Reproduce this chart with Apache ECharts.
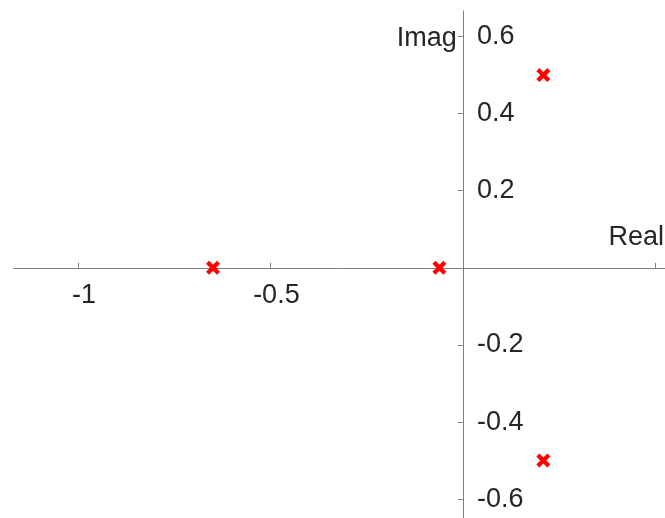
<!DOCTYPE html>
<html>
<head>
<meta charset="utf-8">
<script src="https://cdn.jsdelivr.net/npm/echarts@6/dist/echarts.min.js"></script>
<style>
  html, body { margin: 0; padding: 0; background: #fff; }
  #chart { width: 665px; height: 518px; }
</style>
</head>
<body>
<div id="chart"></div>
<script>
// Pole locations in the complex plane
const poleReal = [0.209, 0.209, -0.649, -0.061];
const poleImag = [0.499, -0.499, 0, 0];

// Axis ticks and labels
const xTicks = [-1, -0.5, 0, 0.5];
const xTickLabels = [-1, -0.5];
const yTicks = [-0.6, -0.4, -0.2, 0, 0.2, 0.4, 0.6];
const yTickLabels = [-0.6, -0.4, -0.2, 0.2, 0.4, 0.6];

const xRange = [-1.166, 0.525];
const yRange = [-0.648, 0.665];

const points = poleReal.map((re, i) => [re, poleImag[i]]);

const axisColor = '#808080';
const textColor = '#262626';
const font = 'Liberation Sans, Arial, Helvetica, sans-serif';
const fontSize = 27;

// Plot area
const gridBox = { left: 14, right: 0, top: 11, bottom: 0 };
const W = 665, H = 518;
const gridW = W - gridBox.left - gridBox.right;
const gridH = H - gridBox.top - gridBox.bottom;

// Shift the axes so they cross at the origin
const xAxisOffset = -(0 - yRange[0]) / (yRange[1] - yRange[0]) * gridH;
const yAxisOffset = -(0 - xRange[0]) / (xRange[1] - xRange[0]) * gridW;

// Bold "x" marker
const crossPath = 'path://M2.2,0 L5,2.8 L7.8,0 L10,2.2 L7.2,5 L10,7.8 L7.8,10 L5,7.2 L2.2,10 L0,7.8 L2.8,5 L0,2.2 Z';

const chart = echarts.init(document.getElementById('chart'), null, { renderer: 'canvas' });
chart.setOption({
  animation: false,
  backgroundColor: '#ffffff',
  grid: Object.assign({ containLabel: false, outerBoundsMode: 'none' }, gridBox),
  xAxis: {
    type: 'value',
    position: 'bottom',
    offset: xAxisOffset,
    min: xRange[0],
    max: xRange[1],
    name: 'Real',
    nameLocation: 'end',
    nameGap: 0,
    nameTextStyle: {
      color: textColor, fontFamily: font, fontSize: fontSize,
      align: 'right', verticalAlign: 'bottom', padding: [0, 1, 17, 0]
    },
    axisLine: { onZero: false, lineStyle: { color: axisColor, width: 1 } },
    axisTick: { show: true, inside: true, length: 5, customValues: xTicks, lineStyle: { color: axisColor } },
    axisLabel: {
      customValues: xTickLabels,
      margin: 14,
      color: textColor, fontFamily: font, fontSize: fontSize,
      padding: [0, 0, 0, 12],
      formatter: v => String(v)
    },
    splitLine: { show: false }
  },
  yAxis: {
    type: 'value',
    position: 'left',
    offset: yAxisOffset,
    min: yRange[0],
    max: yRange[1],
    name: 'Imag',
    nameLocation: 'end',
    nameGap: 0,
    nameTextStyle: {
      color: textColor, fontFamily: font, fontSize: fontSize,
      align: 'right', verticalAlign: 'top', padding: [14, 6, 0, 0]
    },
    axisLine: { onZero: false, lineStyle: { color: axisColor, width: 1 } },
    axisTick: { show: true, inside: false, length: 5, customValues: yTicks, lineStyle: { color: axisColor } },
    axisLabel: {
      inside: true,
      customValues: yTickLabels,
      margin: 14,
      color: textColor, fontFamily: font, fontSize: fontSize,
      padding: [6, 0, 0, 0],
      formatter: v => String(Math.round(v * 10) / 10)
    },
    splitLine: { show: false }
  },
  series: [{
    type: 'scatter',
    data: points,
    symbol: crossPath,
    symbolSize: 14,
    itemStyle: { color: '#ff0000', opacity: 1 },
    z: 5
  }]
});
</script>
</body>
</html>
